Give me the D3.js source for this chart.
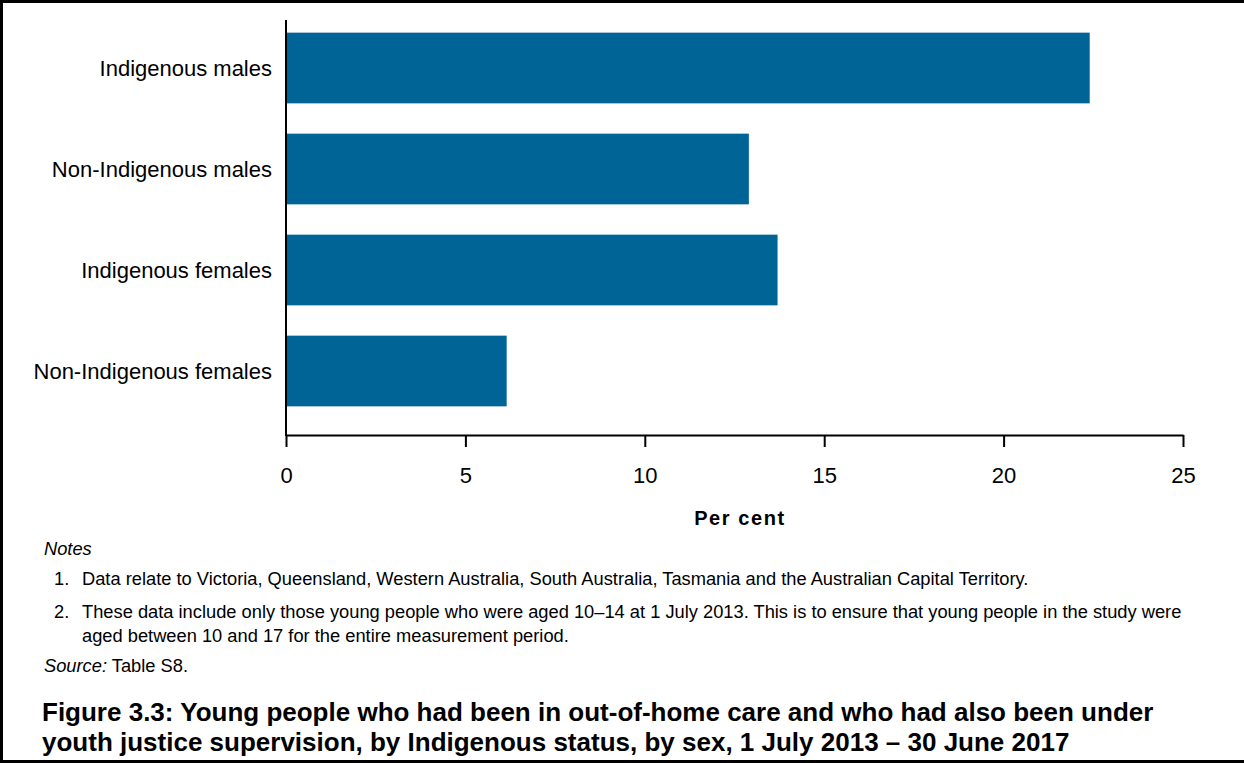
<!DOCTYPE html>
<html>
<head>
<meta charset="utf-8">
<script src="https://cdn.jsdelivr.net/npm/d3@7"></script>
<style>
  body { margin: 0; background: #fff; }
  svg { display: block; font-family: "Liberation Sans", Arial, sans-serif; }
</style>
</head>
<body>
<div id="chart"></div>
<script>
// data
var categories = ["Indigenous males", "Non-Indigenous males", "Indigenous females", "Non-Indigenous females"];
var values = [22.4, 12.9, 13.7, 6.15];
var xTicks = [0, 5, 10, 15, 20, 25];
var notes = [
  ["1.", "Data relate to Victoria, Queensland, Western Australia, South Australia, Tasmania and the Australian Capital Territory."],
  ["2.", "These data include only those young people who were aged 10\u201314 at 1 July 2013. This is to ensure that young people in the study were", "aged between 10 and 17 for the entire measurement period."]
];
var titleLines = [
  "Figure 3.3: Young people who had been in out-of-home care and who had also been under",
  "youth justice supervision, by Indigenous status, by sex, 1 July 2013 \u2013 30 June 2017"
];

var W = 1244, H = 763;
var svg = d3.select("#chart").append("svg")
  .attr("width", W).attr("height", H);

// frame
svg.append("rect")
  .attr("x", 1.5).attr("y", 1.5)
  .attr("width", W + 10).attr("height", H - 3)
  .attr("fill", "none").attr("stroke", "#000").attr("stroke-width", 3);

var x = d3.scaleLinear().domain([0, 25]).range([286, 1183]);
var y = d3.scaleBand().domain(categories)
  .range([17.5, 421.5]).paddingInner(0.3).paddingOuter(0.15);

// bars
svg.selectAll(".bar")
  .data(categories)
  .enter()
  .append("rect")
  .attr("class", "bar")
  .attr("x", x(0))
  .attr("y", function(d) { return y(d); })
  .attr("width", function(d, i) { return x(values[i]) - x(0); })
  .attr("height", y.bandwidth())
  .attr("fill", "#006496");

// x axis
var xAxis = svg.append("g")
  .attr("transform", "translate(0,435)")
  .call(d3.axisBottom(x).tickValues(xTicks).tickSize(12).tickSizeOuter(0).tickPadding(20));
xAxis.select(".domain").attr("stroke", "#000").attr("stroke-width", 2);
xAxis.selectAll(".tick line").attr("stroke", "#000").attr("stroke-width", 2);
xAxis.selectAll(".tick text").attr("font-size", 22).attr("fill", "#000")
  .style("font-family", "Liberation Sans, Arial, sans-serif");

// y axis line
svg.append("line")
  .attr("x1", x(0)).attr("x2", x(0))
  .attr("y1", 20).attr("y2", 436)
  .attr("stroke", "#000").attr("stroke-width", 2);

// category labels
svg.selectAll(".cat")
  .data(categories)
  .enter()
  .append("text")
  .attr("x", 272)
  .attr("y", function(d) { return y(d) + y.bandwidth() / 2; })
  .attr("dy", "0.36em")
  .attr("text-anchor", "end")
  .attr("font-size", 22)
  .text(function(d) { return d; });

// axis title
svg.append("text")
  .attr("x", 740).attr("y", 525)
  .attr("text-anchor", "middle")
  .attr("font-size", 20).attr("font-weight", "bold")
  .attr("letter-spacing", 1.6)
  .text("Per cent");

// notes
var fs = 18.3;
svg.append("text")
  .attr("x", 44).attr("y", 555)
  .attr("font-size", fs).attr("font-style", "italic")
  .text("Notes");

var noteY = [585, 618, 642];
svg.append("text").attr("x", 54).attr("y", noteY[0]).attr("font-size", fs).text(notes[0][0]);
svg.append("text").attr("x", 82).attr("y", noteY[0]).attr("font-size", fs).text(notes[0][1]);
svg.append("text").attr("x", 54).attr("y", noteY[1]).attr("font-size", fs).text(notes[1][0]);
svg.append("text").attr("x", 82).attr("y", noteY[1]).attr("font-size", fs).text(notes[1][1]);
svg.append("text").attr("x", 82).attr("y", noteY[2]).attr("font-size", fs).text(notes[1][2]);

var src = svg.append("text").attr("x", 44).attr("y", 672).attr("font-size", fs);
src.append("tspan").attr("font-style", "italic").text("Source:");
src.append("tspan").text(" Table S8.");

// title
svg.selectAll(".title")
  .data(titleLines)
  .enter()
  .append("text")
  .attr("x", 42)
  .attr("y", function(d, i) { return 721 + i * 30; })
  .attr("font-size", 26).attr("font-weight", "bold")
  .text(function(d) { return d; });
</script>
</body>
</html>
